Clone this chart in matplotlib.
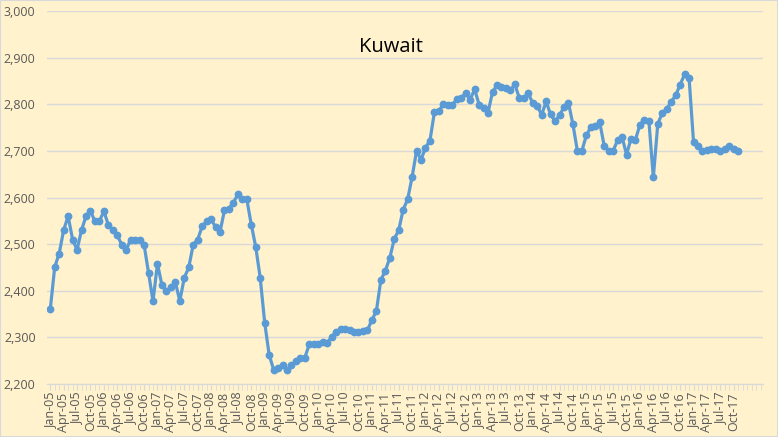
import matplotlib
matplotlib.use("Agg")
import matplotlib.pyplot as plt
from matplotlib.ticker import FuncFormatter
from matplotlib.patches import Rectangle

# monthly production, Jan-05 .. Nov-17 (kb/d)
y2005 = [2360, 2451, 2480, 2530, 2560, 2510, 2488, 2530, 2560, 2571, 2549, 2549]
y2006 = [2571, 2541, 2530, 2519, 2499, 2488, 2510, 2510, 2510, 2499, 2439, 2378]
y2007 = [2458, 2412, 2400, 2408, 2419, 2378, 2428, 2450, 2499, 2510, 2538, 2549]
y2008 = [2553, 2537, 2526, 2573, 2576, 2589, 2607, 2596, 2596, 2542, 2494, 2428]
y2009 = [2332, 2263, 2231, 2235, 2240, 2230, 2240, 2250, 2257, 2257, 2286, 2286]
y2010 = [2286, 2290, 2288, 2302, 2311, 2318, 2318, 2315, 2311, 2311, 2313, 2315]
y2011 = [2338, 2356, 2423, 2443, 2470, 2511, 2530, 2574, 2596, 2644, 2700, 2681]
y2012 = [2707, 2722, 2783, 2785, 2801, 2798, 2798, 2811, 2814, 2823, 2810, 2832]
y2013 = [2799, 2791, 2782, 2826, 2841, 2836, 2834, 2830, 2843, 2813, 2813, 2824]
y2014 = [2802, 2797, 2777, 2806, 2778, 2764, 2776, 2794, 2803, 2757, 2700, 2700]
y2015 = [2733, 2751, 2754, 2761, 2711, 2700, 2700, 2723, 2730, 2692, 2726, 2724]
y2016 = [2756, 2767, 2765, 2643, 2758, 2781, 2790, 2805, 2819, 2842, 2864, 2857]
y2017 = [2719, 2710, 2700, 2701, 2705, 2705, 2699, 2703, 2710, 2705, 2699]

production = (y2005 + y2006 + y2007 + y2008 + y2009 + y2010 + y2011 + y2012
              + y2013 + y2014 + y2015 + y2016 + y2017)

month_names = ['Jan', 'Feb', 'Mar', 'Apr', 'May', 'Jun',
               'Jul', 'Aug', 'Sep', 'Oct', 'Nov', 'Dec']
years = ['05', '06', '07', '08', '09', '10', '11', '12', '13', '14', '15', '16', '17']

month_labels = []
for yr in years:
    for m in month_names:
        month_labels.append(m + '-' + yr)
month_labels = month_labels[:len(production)]

bg = '#FFF2CC'
grid_col = '#D9D9D9'
text_col = '#595959'

plt.rcParams['font.family'] = ['Open Sans', 'DejaVu Sans']

fig = plt.figure(figsize=(7.78, 4.37), dpi=100, facecolor=bg)
ax = fig.add_axes([0.060, 0.121, 0.921, 0.854])
ax.set_facecolor(bg)

x = list(range(len(production)))
ax.plot(x, production, color='#5B9BD5', linewidth=2.3, marker='o',
        markersize=4.6, zorder=3)

ax.set_ylim(2200, 3000)
ax.set_yticks(range(2200, 3001, 100))
ax.yaxis.set_major_formatter(FuncFormatter(lambda v, p: '{:,.0f}'.format(v)))
ax.grid(axis='y', color=grid_col, linewidth=1, zorder=0)
ax.set_axisbelow(True)

ax.set_xlim(-0.8, 159.6)
ax.set_xticks(x[::3])
ax.set_xticklabels(month_labels[::3], rotation=90)
ax.set_xticks(range(0, 160), minor=True)

for s in ['left', 'right', 'top']:
    ax.spines[s].set_visible(False)
ax.spines['bottom'].set_color(grid_col)

ax.tick_params(axis='y', length=0, labelsize=9, colors=text_col, pad=8)
ax.tick_params(axis='x', which='major', length=4, color=grid_col,
               labelsize=9, labelcolor=text_col, pad=2)
ax.tick_params(axis='x', which='minor', length=4, color=grid_col)

fig.text(0.503, 0.892, 'Kuwait', ha='center', va='center',
         fontsize=14.5, color='#000000')

fig.patches.append(Rectangle((0, 0), 1, 1, transform=fig.transFigure,
                             fill=False, edgecolor=grid_col, linewidth=1.5))

fig.savefig('out.png', dpi=100, facecolor=bg)
